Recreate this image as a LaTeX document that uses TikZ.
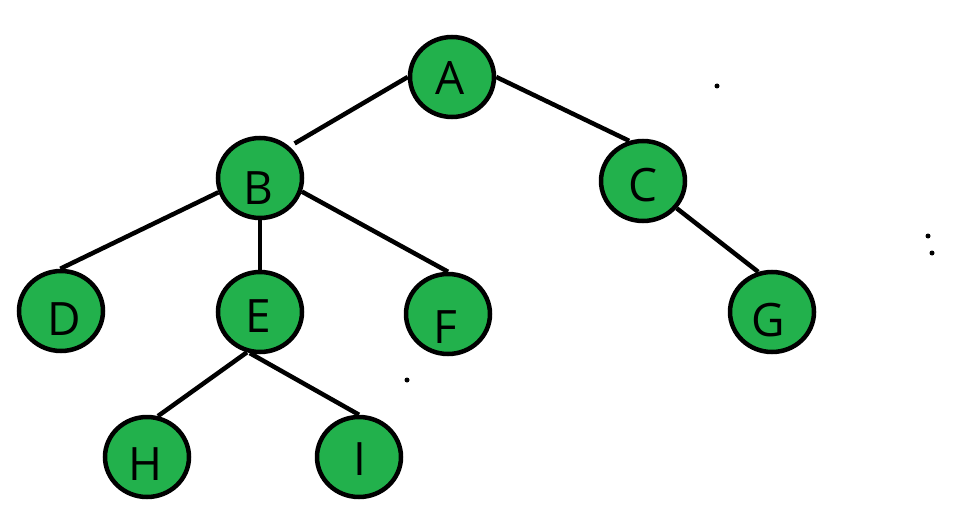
\documentclass[tikz,border=0pt]{standalone}
\usepackage{fontspec}
\setmainfont{Open Sans}
\usetikzlibrary{shapes}
\definecolor{leafgreen}{RGB}{34,177,76}
\tikzstyle{vertex}=[ellipse,draw=black,fill=leafgreen,line width=4.5pt,
                minimum width=84pt,minimum height=80pt,inner sep=0pt]
\tikzstyle{branch}=[draw,line width=4.5pt]
\tikzstyle{speck}=[fill=black]

\begin{document}
\begin{tikzpicture}[x=1pt,y=-1pt]
\fontsize{46}{50}\selectfont
\useasboundingbox (0,0) rectangle (974,513);

% levels of the tree
\node[vertex, label={[xshift=-2pt,yshift=-1pt]center:A}] at (452,77) (A) {};
\node[vertex, label={[xshift=-2pt,yshift=-10pt]center:B}] at (260,178) (B) {};
\node[vertex, label={[yshift=-4pt]center:C}] at (643,181) (C) {};
\node[vertex, label={[xshift=3pt,yshift=-8pt]center:D}] at (61,311) (D) {};
\node[vertex, label={[xshift=-2pt,yshift=-4pt]center:E}] at (260,312) (E) {};
\node[vertex, label={[xshift=-3pt,yshift=-13pt]center:F}] at (448,314) (F) {};
\node[vertex, label={[xshift=-4pt,yshift=-8pt]center:G}] at (772,312) (G) {};
\node[vertex, label={[xshift=-2pt,yshift=-7pt]center:H}] at (147,457) (H) {};
\node[vertex, label={[xshift=1pt,yshift=-2pt]center:I}] at (359,457) (I) {};

\draw[branch, shorten >=6pt] (A.180) -- (B.47);
\draw[branch] (A.0) -- (C.109);
\draw[branch] (B.199) -- (D.91);
\draw[branch] (B.270) -- (E.90);
\draw[branch] (B.342) -- (F.90);
\draw[branch] (C.321) -- (G.109);
\draw[branch] (E.252) -- (H.75);
\draw[branch] (E.256) -- (I.90);

% stray specks
\fill[speck] (717,86) circle (2.5pt);
\fill[speck] (928,236) circle (2.5pt);
\fill[speck] (932,253) circle (2.5pt);
\fill[speck] (407,380) circle (2.5pt);
\end{tikzpicture}
\end{document}
